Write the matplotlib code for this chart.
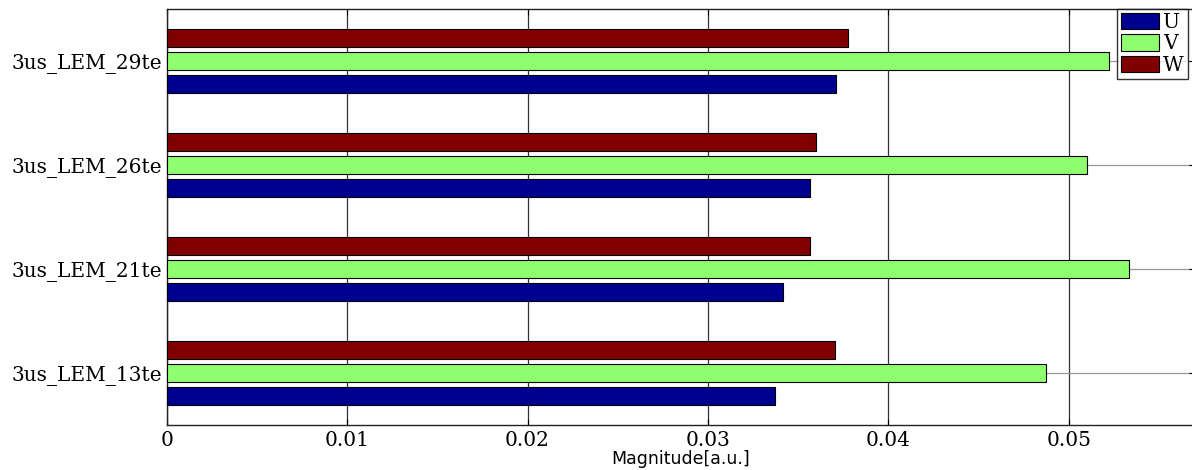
import matplotlib
matplotlib.use("Agg")
import matplotlib.pyplot as plt
import numpy as np

# data, bottom category first
categories = ["3us_LEM_13te", "3us_LEM_21te", "3us_LEM_26te", "3us_LEM_29te"]
u_vals = [0.03374, 0.03416, 0.03566, 0.03708]
v_vals = [0.04874, 0.05334, 0.05101, 0.05223]
w_vals = [0.03703, 0.03566, 0.03599, 0.03777]
series_names = ["U", "V", "W"]
xticks = [0, 0.01, 0.02, 0.03, 0.04, 0.05]
xtick_labels = ["0", "0.01", "0.02", "0.03", "0.04", "0.05"]

colors = ["#000090", "#8fff70", "#800000"]
offsets = [-0.22, 0.0, 0.22]
bar_h = 0.18

W, H, DPI = 1192, 470, 100
fig = plt.figure(figsize=(W / DPI, H / DPI), dpi=DPI)
left, right = 166.7, 1195.0
top, bottom = 9.0, 425.0
ax = fig.add_axes([left / W, 1 - bottom / H, (right - left) / W, (bottom - top) / H])

y = np.arange(len(categories))
handles = []
for vals, off, col, name in zip([u_vals, v_vals, w_vals], offsets, colors, series_names):
    h = ax.barh(y + off, vals, height=bar_h, color=col, edgecolor="black",
                linewidth=0.8, label=name, zorder=3)
    handles.append(h)

serif = "DejaVu Serif"
fs = 14.5
ax.set_xlim(0, 0.057)
ax.set_ylim(-0.5, len(categories) - 0.5)
ax.set_yticks(y)
ax.set_yticklabels(categories, family=serif, fontsize=fs)
ax.set_xticks(xticks)
ax.set_xticklabels(xtick_labels, family=serif, fontsize=fs)
ax.tick_params(direction="in", length=4, width=0.8, top=True, right=True,
               colors="black")
ax.tick_params(axis="y", pad=3)
ax.tick_params(axis="x", pad=4)
ax.xaxis.grid(True, color="#333333", linewidth=0.9, zorder=0)
ax.yaxis.grid(True, color="#999999", linewidth=0.9, zorder=0)
ax.set_axisbelow(True)
for s in ax.spines.values():
    s.set_linewidth(1.0)
    s.set_color("#222222")

ax.set_xlabel("Magnitude[a.u.]", family="DejaVu Sans", fontsize=12.5, labelpad=0)

leg = fig.legend(handles=handles, labels=series_names, loc="upper left",
                 bbox_to_anchor=(1116.7 / W, 1 - 9 / H), bbox_transform=fig.transFigure,
                 prop={"family": serif, "size": fs}, frameon=True,
                 fancybox=False, borderaxespad=0, borderpad=0.2,
                 handlelength=1.9, handleheight=0.85, handletextpad=0.2,
                 labelspacing=0.12)
leg.get_frame().set_edgecolor("black")
leg.get_frame().set_linewidth(1.0)

fig.savefig("out.png", dpi=DPI)
